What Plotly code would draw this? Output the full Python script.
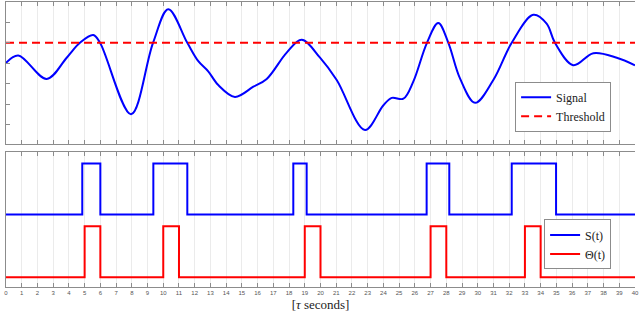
import plotly.graph_objects as go
from plotly.subplots import make_subplots

# ---- data ----
sig_t = [0, 0.78, 2.59, 3.86, 4.7, 5.55, 5.98, 7.95, 9.35, 10.32, 11.53, 12.23, 12.86, 13.5,
         14.56, 15.73, 16.58, 17.85, 18.8, 19.97, 21.03, 22.83, 23.99, 24.53, 25.27, 25.9,
         26.77, 27.49, 28.13, 28.87, 29.83, 30.99, 32.16, 33.53, 34.38, 34.91, 36.08, 37.35,
         38.84, 40]
sig_v = [0.02, 0.38, -0.77, 0.27, 1.0, 1.38, 1.0, -2.5, 1.0, 2.65, 1.0, 0.1, -0.4, -1.07,
         -1.65, -1.15, -0.77, 0.52, 1.15, 0.27, -0.82, -3.27, -2.07, -1.7, -1.74, -0.9,
         1.0, 1.97, 1.0, -0.74, -1.94, -0.82, 1.0, 2.37, 1.94, 1.0, -0.1, 0.49, 0.27, -0.1]
threshold = 1.0

s_on = [(4.85, 6.0), (9.37, 11.53), (18.27, 19.12), (26.75, 28.19), (32.16, 34.98)]
theta_on = [(5, 6), (10, 11), (19, 20), (27, 28), (33, 34)]
t_min, t_max = 0, 40
x_ticks = list(range(0, 41))


def steps(intervals):
    xs, ys = [t_min], [0]
    for a, b in intervals:
        xs += [a, a, b, b]
        ys += [0, 1, 1, 0]
    xs.append(t_max)
    ys.append(0)
    return xs, ys


s_x, s_y = steps(s_on)
th_x, th_y = steps(theta_on)
S_OFFSET = 1.23

fig = make_subplots(rows=2, cols=1, shared_xaxes=False, vertical_spacing=0.028,
                    row_heights=[0.512, 0.488])

fig.add_trace(go.Scatter(x=sig_t, y=sig_v, mode="lines", name="Signal",
                         line=dict(color="#0000ff", width=2, shape="spline", smoothing=1.0),
                         legend="legend"), row=1, col=1)
fig.add_trace(go.Scatter(x=[t_min, t_max], y=[threshold, threshold], mode="lines",
                         name="Threshold", line=dict(color="#ff0000", width=2, dash="8px,5px"),
                         legend="legend"), row=1, col=1)
fig.add_trace(go.Scatter(x=s_x, y=[v + S_OFFSET for v in s_y], mode="lines", name="S(t)",
                         line=dict(color="#0000ff", width=2), legend="legend2"), row=2, col=1)
fig.add_trace(go.Scatter(x=th_x, y=th_y, mode="lines", name="Θ(t)",
                         line=dict(color="#ff0000", width=2), legend="legend2"), row=2, col=1)

axis_common = dict(range=[t_min, t_max], tickvals=x_ticks, showgrid=True, gridcolor="#ebebeb",
                   gridwidth=1, showline=True, linecolor="#8c8c8c", linewidth=1, mirror="ticks",
                   ticks="inside", ticklen=4, tickcolor="#8c8c8c", zeroline=False)
fig.update_xaxes(**axis_common, showticklabels=False, row=1, col=1)
fig.update_xaxes(**axis_common, showticklabels=True, ticktext=[str(v) for v in x_ticks],
                 tickfont=dict(family="Liberation Sans", size=6, color="#555555"),
                 title=dict(text="[<i>τ</i> seconds]", standoff=4,
                            font=dict(family="Liberation Serif", size=13, color="#222222")),
                 row=2, col=1)
fig.update_yaxes(range=[-3.95, 3.0], dtick=1, showticklabels=False, showgrid=False,
                 zeroline=False, showline=True, linecolor="#8c8c8c", linewidth=1,
                 ticks="inside", ticklen=4, tickcolor="#8c8c8c", row=1, col=1)
fig.update_yaxes(range=[-0.19, 2.46], showticklabels=False, showgrid=False, zeroline=False,
                 showline=True, linecolor="#8c8c8c", linewidth=1, ticks="", row=2, col=1)

legend_style = dict(bgcolor="white", bordercolor="#8c8c8c", borderwidth=1,
                    xanchor="right", yanchor="top", tracegroupgap=0, itemwidth=30)
fig.update_layout(
    width=640, height=315,
    margin=dict(l=6, r=5, t=2, b=28, autoexpand=False),
    paper_bgcolor="white", plot_bgcolor="white",
    legend=dict(x=0.962, y=0.72,
                font=dict(family="Liberation Serif", size=12, color="#222222"), **legend_style),
    legend2=dict(x=0.962, y=0.237,
                 font=dict(family="Liberation Serif", size=12, color="#222222"), **legend_style),
    showlegend=True,
)

fig.write_html("out.html", config={"displayModeBar": False},
               post_script="document.body.style.margin='0';document.body.style.overflow='hidden';")
